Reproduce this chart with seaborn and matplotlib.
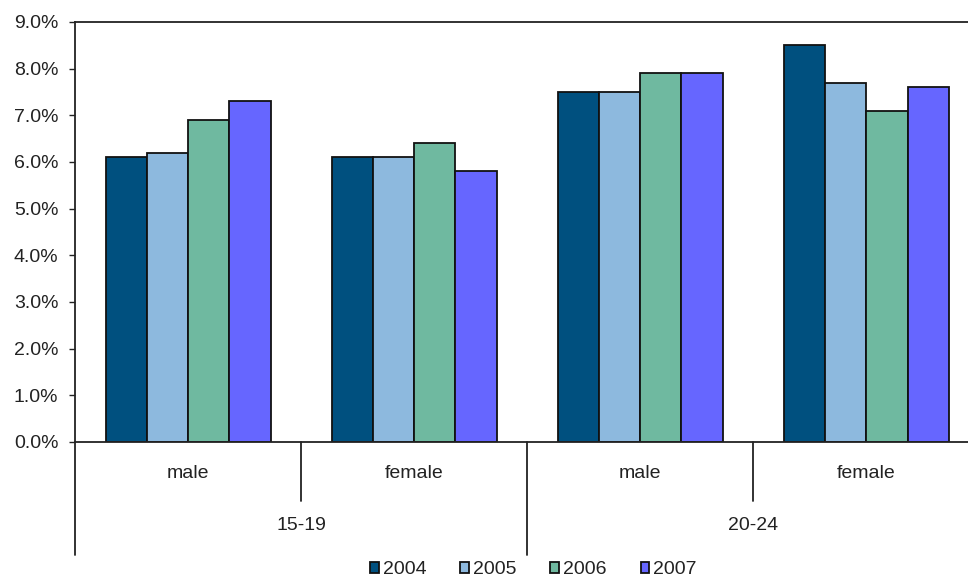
import pandas as pd
import matplotlib.pyplot as plt
import matplotlib.transforms as mtransforms
import seaborn as sns

sns.set_theme(style="white")
plt.rcParams['font.family'] = ['Liberation Sans', 'DejaVu Sans']

# Data
age_groups = ['15-19', '20-24']
sexes = ['male', 'female']
years = ['2004', '2005', '2006', '2007']
rates = {
    '2004': [6.1, 6.1, 7.5, 8.5],
    '2005': [6.2, 6.1, 7.5, 7.7],
    '2006': [6.9, 6.4, 7.9, 7.1],
    '2007': [7.3, 5.8, 7.9, 7.6],
}
colors = ['#00507f', '#8db9de', '#6fb9a0', '#6666ff']

# Build long table, one row per bar
keys = [f"{a}|{s}" for a in age_groups for s in sexes]
rows = []
for yr in years:
    for k, v in zip(keys, rates[yr]):
        rows.append({'cat': k, 'year': yr, 'rate': v})
df = pd.DataFrame(rows)

fig = plt.figure(figsize=(9.68, 5.8), dpi=100)
ax = fig.add_axes([75 / 968, 1 - 442 / 580, 1 - 75 / 968, (442 - 22) / 580])

sns.barplot(data=df, x='cat', y='rate', hue='year', order=keys, hue_order=years,
            palette=colors, width=0.73, edgecolor='#111111', linewidth=1.3,
            saturation=1, ax=ax, legend=True)

ax.set_ylim(0, 9)
ax.set_xlim(-0.5, 3.45)
ax.set_yticks(range(0, 10))
ax.set_yticklabels([f"{v:.1f}%" for v in range(0, 10)], fontsize=14, color='#222222')
ax.set_xlabel('')
ax.set_ylabel('')
ax.set_xticks([])
ax.tick_params(axis='y', direction='out', length=4, width=1, color='#222222', left=True, pad=8)

for side in ['left', 'top', 'bottom']:
    ax.spines[side].set_visible(True)
    ax.spines[side].set_color('#222222')
    ax.spines[side].set_linewidth(1.3)
ax.spines['right'].set_visible(False)

# Two-level category axis drawn below the plot
trans = mtransforms.blended_transform_factory(ax.transData, fig.transFigure)
def fy(px):
    return 1 - px / 580

for x in [0.5, 2.5]:
    ax.plot([x, x], [fy(442), fy(501)], transform=trans, color='#222222', lw=1.3, clip_on=False)
for x in [-0.5, 1.5, 3.5]:
    ax.plot([x, x], [fy(442), fy(555)], transform=trans, color='#222222', lw=1.3, clip_on=False)

for i, k in enumerate(keys):
    ax.text(i, fy(474), k.split('|')[1], transform=trans, ha='center', va='center',
            fontsize=14, color='#222222')
for j, a in enumerate(age_groups):
    ax.text(j * 2 + 0.5, fy(525), a, transform=trans, ha='center', va='center',
            fontsize=14, color='#222222')

# Legend at the bottom
handles, labels = ax.get_legend_handles_labels()
ax.get_legend().remove()
leg = fig.legend(handles, labels, loc='center', bbox_to_anchor=(0.551, fy(570)), ncol=4,
                 frameon=False, fontsize=14, handlelength=0.45, handleheight=0.45,
                 handletextpad=0.2, columnspacing=1.75, borderaxespad=0)
for t in leg.get_texts():
    t.set_color('#222222')

fig.savefig('out.png', dpi=100)
